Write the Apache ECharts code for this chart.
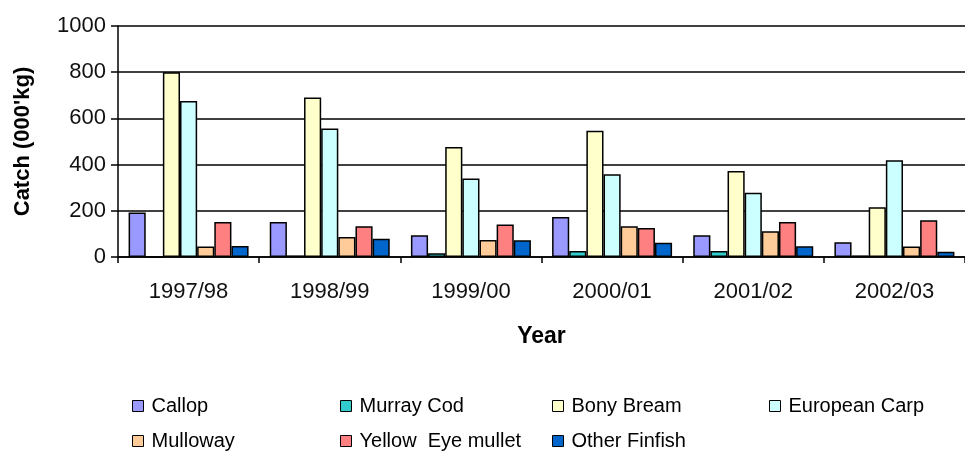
<!DOCTYPE html>
<html>
<head>
<meta charset="utf-8">
<script src="https://cdn.jsdelivr.net/npm/echarts@6/dist/echarts.min.js"></script>
<style>
  html, body { margin: 0; padding: 0; background: #fff; }
  #chart { width: 965px; height: 454px; }
</style>
</head>
<body>
<div id="chart"></div>
<script>
const years = ["1997/98", "1998/99", "1999/00", "2000/01", "2001/02", "2002/03"];
const callop = [193, 152, 94, 173, 94, 64];
const murrayCod = [0, 7, 16, 26, 26, 7];
const bonyBream = [800, 690, 476, 547, 372, 215];
const europeanCarp = [675, 556, 340, 358, 278, 419];
const mulloway = [45, 87, 74, 133, 111, 45];
const yellowEyeMullet = [152, 133, 141, 126, 152, 159];
const otherFinfish = [48, 79, 72, 62, 46, 23];
const yTicks = [0, 200, 400, 600, 800, 1000];

var font = "Liberation Sans, Arial, sans-serif";
var chart = echarts.init(document.getElementById("chart"));

function bar(name, data, color) {
  return {
    name: name,
    type: "bar",
    data: data,
    barGap: "0%",
    barCategoryGap: "15%",
    itemStyle: { color: color, borderColor: "#000", borderWidth: 1.5 },
  };
}

// one legend per entry so each sits in its own column / row
function legendItem(left, top, name) {
  return {
    left: left,
    top: top,
    padding: 0,
    itemWidth: 11,
    itemHeight: 11,
    icon: "rect",
    itemStyle: { borderColor: "#000", borderWidth: 1 },
    textStyle: { fontFamily: font, fontSize: 20, color: "#000", padding: [0, 0, 0, 3] },
    data: [name],
  };
}

var option = {
  animation: false,
  legend: [
    legendItem(132, 396, "Callop"),
    legendItem(340, 396, "Murray Cod"),
    legendItem(552, 396, "Bony Bream"),
    legendItem(769, 396, "European Carp"),
    legendItem(132, 431, "Mulloway"),
    legendItem(340, 431, "Yellow  Eye mullet"),
    legendItem(552, 431, "Other Finfish"),
  ],
  grid: { left: 118, top: 26, right: 0, bottom: 197 },
  xAxis: {
    type: "category",
    data: years,
    name: "Year",
    nameLocation: "middle",
    nameGap: 68,
    nameTextStyle: { fontFamily: font, fontSize: 23, fontWeight: "bold", color: "#000" },
    axisLine: { lineStyle: { color: "#000", width: 1.5 } },
    axisTick: { show: true, length: 6, lineStyle: { color: "#000", width: 1.5 } },
    axisLabel: { fontFamily: font, fontSize: 22, color: "#111", margin: 24 },
  },
  yAxis: {
    type: "value",
    min: yTicks[0],
    max: yTicks[yTicks.length - 1],
    interval: 200,
    name: "Catch (000'kg)",
    nameLocation: "middle",
    nameGap: 84,
    nameTextStyle: { fontFamily: font, fontSize: 22, fontWeight: "bold", color: "#000" },
    axisLine: { show: true, lineStyle: { color: "#000", width: 1.5 } },
    axisTick: { show: true, inside: false, length: 7, lineStyle: { color: "#000", width: 1.5 } },
    axisLabel: { fontFamily: font, fontSize: 22, color: "#111", margin: 12, formatter: function (v) { return String(v); } },
    splitLine: { lineStyle: { color: "#000", width: 1.5 } },
  },
  series: [
    bar("Callop", callop, "#9999FF"),
    bar("Murray Cod", murrayCod, "#33CCCC"),
    bar("Bony Bream", bonyBream, "#FFFFCC"),
    bar("European Carp", europeanCarp, "#CCFFFF"),
    bar("Mulloway", mulloway, "#FFCC99"),
    bar("Yellow  Eye mullet", yellowEyeMullet, "#FF8080"),
    bar("Other Finfish", otherFinfish, "#0066CC"),
  ],
};
chart.setOption(option);
</script>
</body>
</html>
